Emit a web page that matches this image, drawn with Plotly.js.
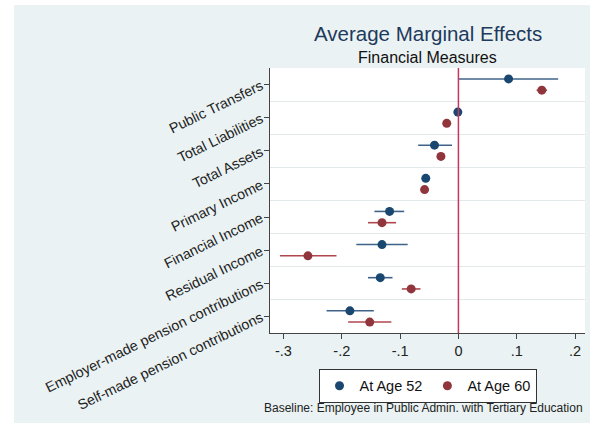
<!DOCTYPE html>
<html>
<head>
<meta charset="utf-8">
<script src="https://cdn.plot.ly/plotly-3.0.1.min.js"></script>
<style>
html,body{margin:0;padding:0;background:#ffffff;width:590px;height:425px;overflow:hidden;}
#chart{position:absolute;left:14px;top:5px;width:576px;height:418px;}
</style>
</head>
<body>
<div id="chart"></div>
<script>
// Categories, top to bottom
const categories = [
  "Public Transfers",
  "Total Liabilities",
  "Total Assets",
  "Primary Income",
  "Financial Income",
  "Residual Income",
  "Employer-made pension contributions",
  "Self-made pension contributions"
];
// At Age 52: estimate, lower CI, upper CI
const age52 = [0.086, -0.001, -0.041, -0.056, -0.118, -0.131, -0.134, -0.186];
const age52Lo = [0.000, -0.004, -0.069, -0.059, -0.144, -0.175, -0.155, -0.226];
const age52Hi = [0.171, 0.002, -0.011, -0.053, -0.093, -0.087, -0.113, -0.145];
// At Age 60
const age60 = [0.143, -0.020, -0.030, -0.058, -0.131, -0.258, -0.081, -0.152];
const age60Lo = [0.134, -0.023, -0.033, -0.061, -0.155, -0.306, -0.097, -0.189];
const age60Hi = [0.152, -0.017, -0.027, -0.055, -0.107, -0.209, -0.065, -0.115];
const xTickVals = [-0.3, -0.2, -0.1, 0, 0.1, 0.2];
const xTickText = ["-.3", "-.2", "-.1", "0", ".1", ".2"];

const n = categories.length;
const pos = categories.map((c, i) => n - 1 - i);
const off = 0.17;

const trace52 = {
  type: "scatter", mode: "markers", name: "At Age 52",
  x: age52, y: pos.map(p => p + off),
  marker: {color: "#1a476f", size: 9},
  error_x: {type: "data", symmetric: false,
    array: age52.map((v, i) => age52Hi[i] - v),
    arrayminus: age52.map((v, i) => v - age52Lo[i]),
    color: "#3f6388", thickness: 1.6, width: 0},
  hoverinfo: "x"
};
const trace60 = {
  type: "scatter", mode: "markers", name: "At Age 60",
  x: age60, y: pos.map(p => p - off),
  marker: {color: "#90353b", size: 9},
  error_x: {type: "data", symmetric: false,
    array: age60.map((v, i) => age60Hi[i] - v),
    arrayminus: age60.map((v, i) => v - age60Lo[i]),
    color: "#b0474f", thickness: 1.6, width: 0},
  hoverinfo: "x"
};

const layout = {
  width: 576, height: 418,
  margin: {l: 256, r: 5, t: 63, b: 90},
  paper_bgcolor: "#eaf2f3",
  plot_bgcolor: "#ffffff",
  font: {family: "Liberation Sans, Arial, sans-serif", size: 13, color: "#222222"},
  showlegend: true,
  xaxis: {
    range: [-0.323, 0.217],
    tickmode: "array", tickvals: xTickVals, ticktext: xTickText,
    ticks: "outside", ticklen: 5, tickcolor: "#444", tickwidth: 1,
    showline: true, linecolor: "#444", linewidth: 1,
    showgrid: false, zeroline: false,
    tickfont: {size: 14.5, color: "#222"},
    fixedrange: true
  },
  yaxis: {
    range: [-0.5, n - 0.5],
    tickmode: "array", tickvals: pos, ticktext: categories,
    tickangle: -26,
    ticks: "outside", ticklen: 5, tickcolor: "#444", tickwidth: 1,
    showline: true, linecolor: "#444", linewidth: 1,
    showgrid: false, zeroline: false,
    minor: {tickmode: "array", tickvals: pos.slice(1).map(p => p + 0.5),
            showgrid: true, gridcolor: "#e3e9eb", gridwidth: 1, ticks: ""},
    tickfont: {size: 14.3, color: "#222"},
    fixedrange: true
  },
  shapes: [{
    type: "line", xref: "x", yref: "paper", x0: 0, x1: 0, y0: 0, y1: 1,
    line: {color: "#c7375e", width: 1.5}, layer: "above"
  }],
  legend: {
    orientation: "h", x: 0.5, xanchor: "center", y: -0.135, yanchor: "top",
    bgcolor: "#ffffff", bordercolor: "#333333", borderwidth: 1,
    font: {size: 14.5, color: "#111"}, itemwidth: 30, tracegroupgap: 0
  },
  annotations: [
    {text: "Average Marginal Effects", xref: "paper", yref: "paper",
     x: 0.5, y: 1, yshift: 35, xanchor: "center", yanchor: "middle", showarrow: false,
     font: {size: 20.5, color: "#1e3a5c"}},
    {text: "Financial Measures", xref: "paper", yref: "paper",
     x: 0.5, y: 1, yshift: 11, xanchor: "center", yanchor: "middle", showarrow: false,
     font: {size: 16, color: "#111"}},
    {text: "Baseline: Employee in Public Admin. with Tertiary Education", xref: "paper", yref: "paper",
     x: 1, y: 0, yshift: -75, xanchor: "right", yanchor: "middle", showarrow: false,
     font: {size: 12, color: "#222"}}
  ]
};

Plotly.newPlot("chart", [trace52, trace60], layout, {displayModeBar: false, staticPlot: true});
</script>
</body>
</html>
